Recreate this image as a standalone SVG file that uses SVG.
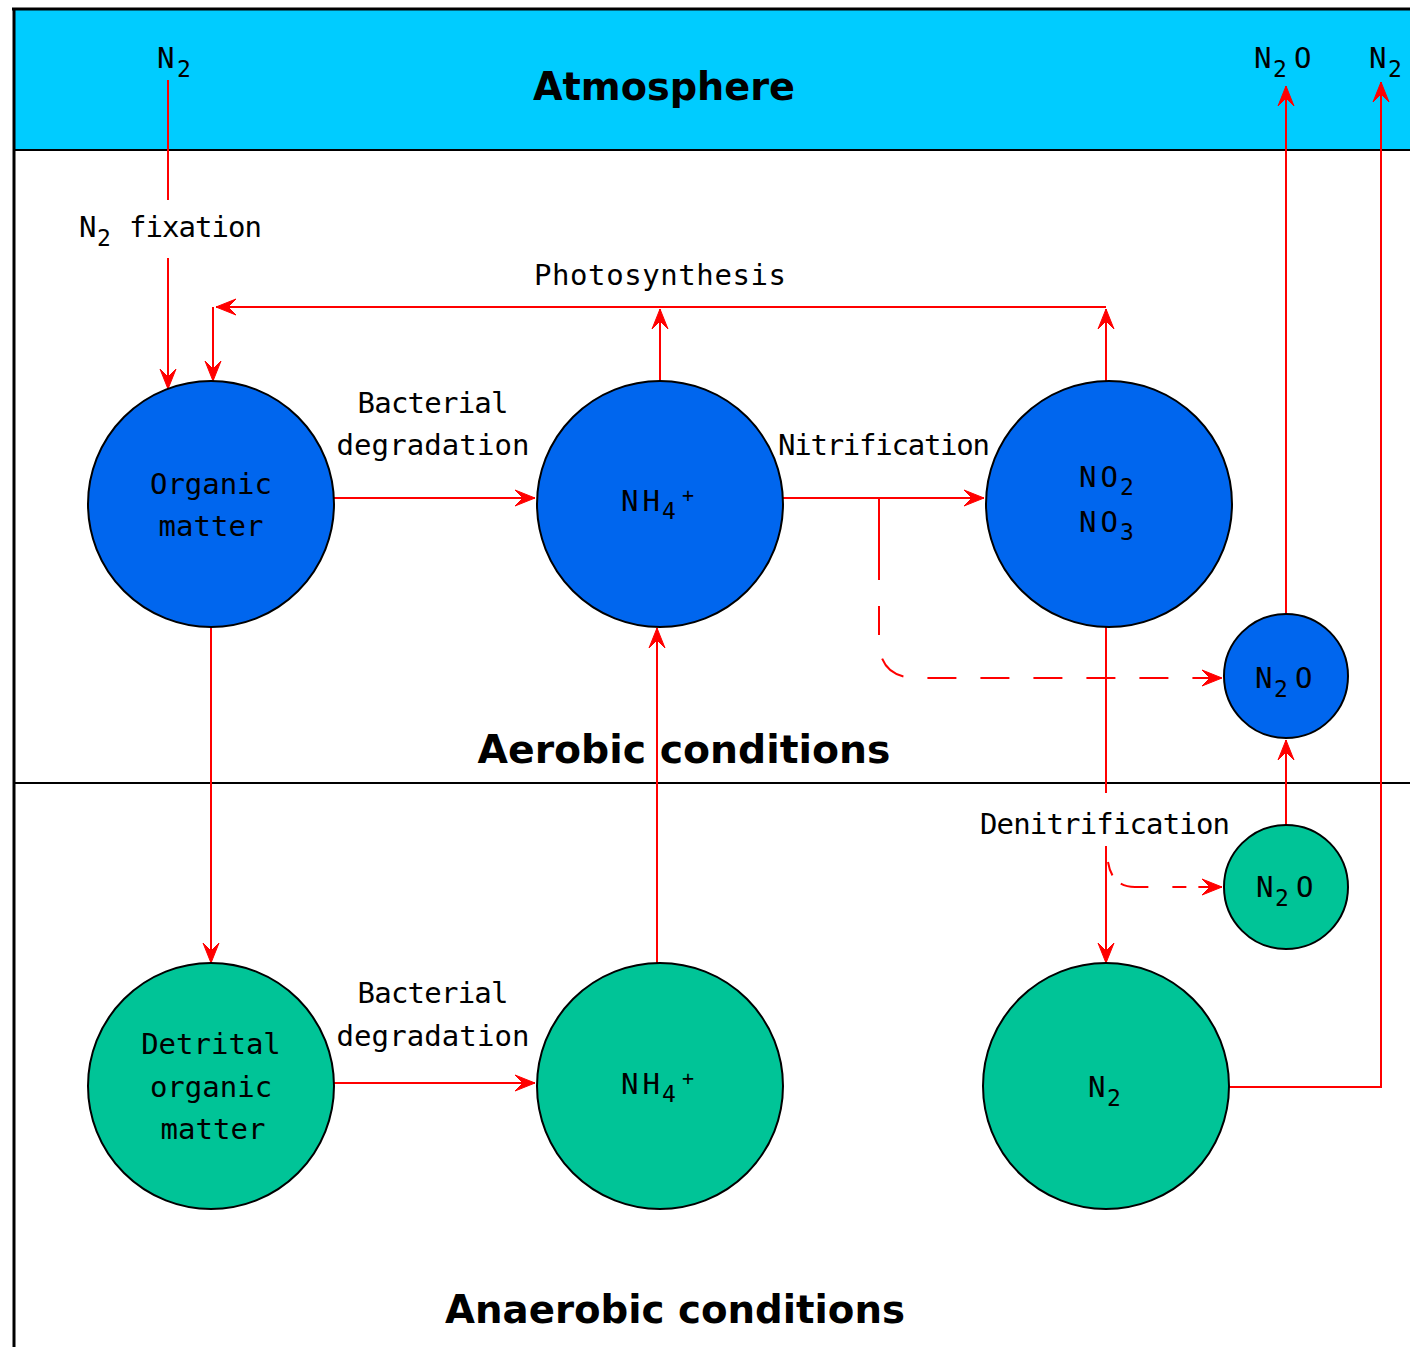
<svg xmlns="http://www.w3.org/2000/svg" width="1410" height="1347" viewBox="0 0 1410 1347">
<style>
.lbl{font-family:"DejaVu Sans Mono","Liberation Mono",monospace;font-size:29px;fill:#000}
.sub{font-size:23px}
.sup{font-size:20px}
.big{font-family:"DejaVu Sans","Liberation Sans",sans-serif;font-weight:bold;font-size:39px;fill:#000}
.mid{text-anchor:middle}
.blue{fill:#0066EE;stroke:#000;stroke-width:2}
.green{fill:#00C497;stroke:#000;stroke-width:2}
.c{fill:none;stroke:#FF0000;stroke-width:2}
.a{marker-end:url(#arr)}
.d{stroke-dasharray:29 24}
</style>
<defs>
<marker id="arr" markerUnits="userSpaceOnUse" markerWidth="24" markerHeight="20" viewBox="-22 -10 24 20" refX="0" refY="0" orient="auto">
<path d="M0,0 L-20,-8 L-12,0 L-20,8 Z" fill="#FF0000" stroke="#FF0000" stroke-width="1"/>
</marker>
</defs>
<rect x="0" y="0" width="1410" height="1347" fill="#FFFFFF"/>
<g id="frame">
<rect x="14" y="9" width="1400" height="141" fill="#00CCFF"/>
<line x1="12" y1="9" x2="1410" y2="9" stroke="#000" stroke-width="3"/>
<line x1="14" y1="8" x2="14" y2="1347" stroke="#000" stroke-width="3"/>
<line x1="14" y1="150" x2="1410" y2="150" stroke="#000" stroke-width="2"/>
<line x1="14" y1="783" x2="1410" y2="783" stroke="#000" stroke-width="2"/>
</g>
<g id="region-labels">
<text class="big mid" x="664" y="100" textLength="262" lengthAdjust="spacingAndGlyphs">Atmosphere</text>
<text class="big mid" x="684" y="763" textLength="413" lengthAdjust="spacingAndGlyphs">Aerobic conditions</text>
<text class="big mid" x="675" y="1323" textLength="460" lengthAdjust="spacingAndGlyphs">Anaerobic conditions</text>
<text class="lbl"><tspan x="157" y="68">N</tspan><tspan class="sub" x="177" y="77">2</tspan></text>
<text class="lbl"><tspan x="1254" y="68">N</tspan><tspan class="sub" x="1273" y="77">2</tspan><tspan x="1294" y="68">O</tspan></text>
<text class="lbl"><tspan x="1369" y="68">N</tspan><tspan class="sub" x="1388" y="77">2</tspan></text>
</g>
<g id="connectors">
<path class="c" d="M168,80 V200"/>
<path class="c a" d="M168,258 V389"/>
<path class="c a" d="M660,381 V309"/>
<path class="c a" d="M1106,381 V309"/>
<path class="c a" d="M1106,307 H216"/>
<path class="c a" d="M213,307 V381"/>
<path class="c a" d="M334,498 H535"/>
<path class="c a" d="M783,498 H984"/>
<path class="c" d="M879,498 V580"/>
<path class="c d a" d="M879,606 V640 Q879,678 917,678 H1222"/>
<path class="c a" d="M211,626 V963"/>
<path class="c a" d="M657,965 V628"/>
<path class="c a" d="M334,1083 H535"/>
<path class="c" d="M1106,626 V793"/>
<path class="c a" d="M1106,846 V963"/>
<path class="c a" d="M1108,862 Q1112,887 1135,887 H1222" style="stroke-dasharray:14 12 28 24"/>
<path class="c a" d="M1286,825 V740"/>
<path class="c a" d="M1286,614 V86"/>
<path class="c a" d="M1229,1087 H1381 V82"/>
</g>
<g id="connector-labels">
<text class="lbl"><tspan x="79" y="237">N</tspan><tspan class="sub" x="97" y="246">2</tspan><tspan x="129" y="237" textLength="133">fixation</tspan></text>
<text class="lbl mid" x="660" y="285" textLength="252">Photosynthesis</text>
<text class="lbl mid" x="433" y="413" textLength="151">Bacterial</text>
<text class="lbl mid" x="433" y="455" textLength="193">degradation</text>
<text class="lbl mid" x="884" y="455" textLength="212">Nitrification</text>
<text class="lbl mid" x="1105" y="834" textLength="250">Denitrification</text>
<text class="lbl mid" x="433" y="1003" textLength="151">Bacterial</text>
<text class="lbl mid" x="433" y="1046" textLength="193">degradation</text>
</g>
<g id="organic-matter">
<circle class="blue" cx="211" cy="504" r="123"/>
<text class="lbl mid" x="211" y="494" textLength="122">Organic</text>
<text class="lbl mid" x="211" y="536">matter</text>
</g>
<g id="nh4-aerobic">
<circle class="blue" cx="660" cy="504" r="123"/>
<text class="lbl"><tspan x="621" y="511" textLength="39">NH</tspan><tspan class="sub" x="662" y="519">4</tspan><tspan class="sup" x="682" y="502">+</tspan></text>
</g>
<g id="no2-no3">
<circle class="blue" cx="1109" cy="504" r="123"/>
<text class="lbl"><tspan x="1079" y="487" textLength="39">NO</tspan><tspan class="sub" x="1120" y="495">2</tspan></text>
<text class="lbl"><tspan x="1079" y="532" textLength="39">NO</tspan><tspan class="sub" x="1120" y="540">3</tspan></text>
</g>
<g id="n2o-aerobic">
<circle class="blue" cx="1286" cy="676" r="62"/>
<text class="lbl"><tspan x="1255" y="688">N</tspan><tspan class="sub" x="1274" y="697">2</tspan><tspan x="1295" y="688">O</tspan></text>
</g>
<g id="n2o-anaerobic">
<circle class="green" cx="1286" cy="887" r="62"/>
<text class="lbl"><tspan x="1256" y="897">N</tspan><tspan class="sub" x="1275" y="906">2</tspan><tspan x="1296" y="897">O</tspan></text>
</g>
<g id="detrital-organic-matter">
<circle class="green" cx="211" cy="1086" r="123"/>
<text class="lbl mid" x="211" y="1054">Detrital</text>
<text class="lbl mid" x="211" y="1097">organic</text>
<text class="lbl mid" x="213" y="1139">matter</text>
</g>
<g id="nh4-anaerobic">
<circle class="green" cx="660" cy="1086" r="123"/>
<text class="lbl"><tspan x="621" y="1094" textLength="39">NH</tspan><tspan class="sub" x="662" y="1102">4</tspan><tspan class="sup" x="682" y="1085">+</tspan></text>
</g>
<g id="n2-anaerobic">
<circle class="green" cx="1106" cy="1086" r="123"/>
<text class="lbl"><tspan x="1088" y="1097">N</tspan><tspan class="sub" x="1107" y="1106">2</tspan></text>
</g>
</svg>
